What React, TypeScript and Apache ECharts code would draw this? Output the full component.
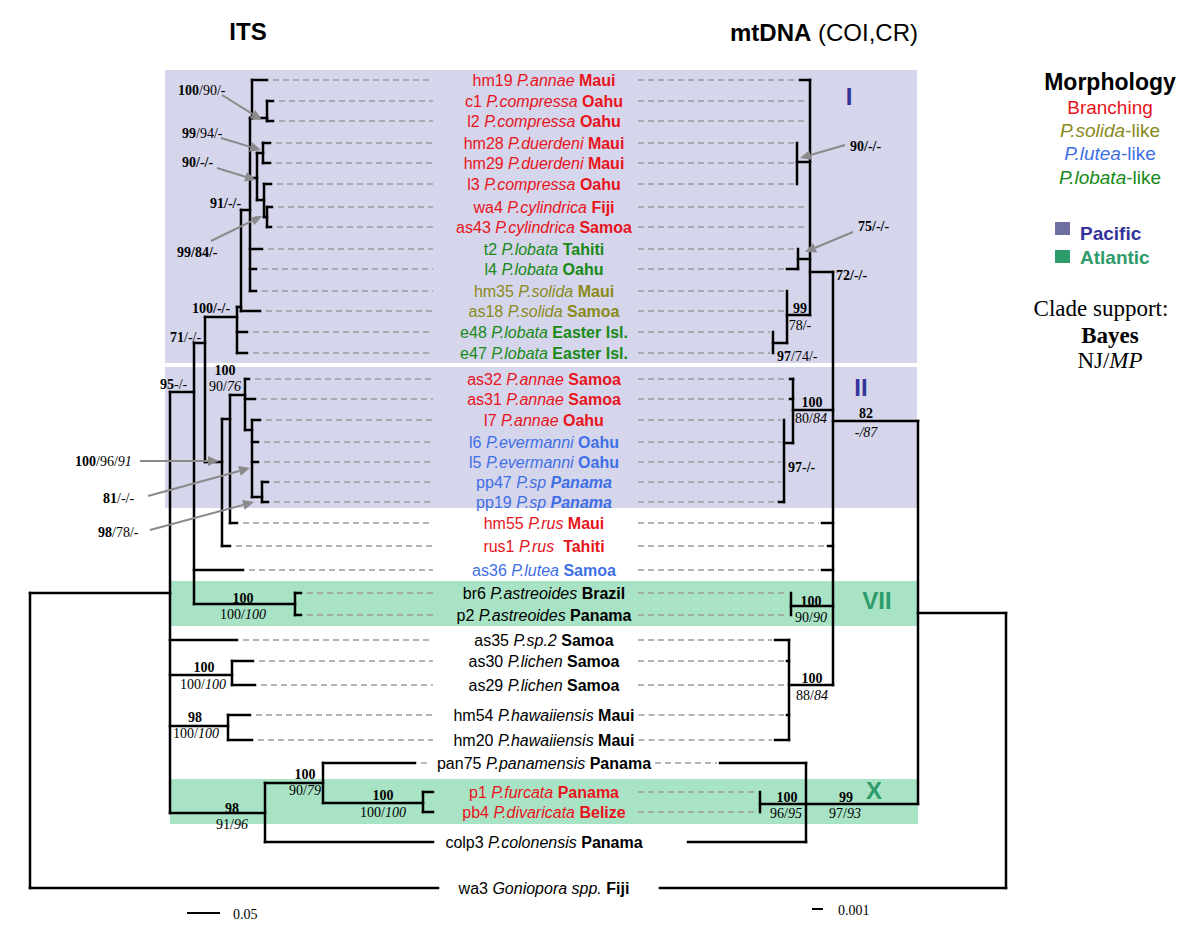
import React, { useEffect, useRef } from 'react';
import * as echarts from 'echarts';

const SANS = '"Liberation Sans", Arial, Helvetica, sans-serif';
const SERIF = '"Liberation Serif", "Times New Roman", Times, serif';

// ---------- leaves ----------
const leafCodes = ['hm19','c1','l2','hm28','hm29','l3','wa4','as43','t2','l4','hm35','as18','e48','e47','as32','as31','l7','l6','l5','pp47','pp19','hm55','rus1','as36','br6','p2','as35','as30','as29','hm54','hm20','pan75','p1','pb4','colp3','wa3'];
const leafSpecies = ['P.annae','P.compressa','P.compressa','P.duerdeni','P.duerdeni','P.compressa','P.cylindrica','P.cylindrica','P.lobata','P.lobata','P.solida','P.solida','P.lobata','P.lobata','P.annae','P.annae','P.annae','P.evermanni','P.evermanni','P.sp','P.sp','P.rus','P.rus ','P.lutea','P.astreoides','P.astreoides','P.sp.2','P.lichen','P.lichen','P.hawaiiensis','P.hawaiiensis','P.panamensis','P.furcata','P.divaricata','P.colonensis','Goniopora spp.'];
const leafPlaces = ['Maui','Oahu','Oahu','Maui','Maui','Oahu','Fiji','Samoa','Tahiti','Oahu','Maui','Samoa','Easter Isl.','Easter Isl.','Samoa','Samoa','Oahu','Oahu','Oahu','Panama','Panama','Maui','Tahiti','Samoa','Brazil','Panama','Samoa','Samoa','Samoa','Maui','Maui','Panama','Panama','Belize','Panama','Fiji'];
const leafMorph = ['B','B','B','B','B','B','B','B','lo','lo','so','so','lo','lo','B','B','B','lu','lu','lu','lu','B','B','lu','k','k','k','k','k','k','k','k','B','B','k','k'];
const leafRows = [80,101,121,143,163,184,207,227,249,269,291,311,332,353,379,399,420,442,462,482,502,523,546,570,593,615,640,661,685,715,740,763,792,812,842,888];
const italicPlaces = ['pp47','pp19'];
const solidTips = ['colp3','wa3'];

const morphColors: Record<string, string> = { B: '#e8141c', so: '#8a8a1c', lu: '#3f6fe6', lo: '#178a17', k: '#000000' };

// ---------- trees (x = branch depth in plot units) ----------
type TN = { x: number; y?: number; ch?: TN[]; leaf?: string };
const L = (leaf: string, x: number): TN => ({ leaf, x });
const N = (x: number, ch: TN[], y?: number): TN => ({ x, ch, y });

const itsTree = N(30, [
  N(170, [
    N(194, [
      N(205, [
        N(237, [
          N(241, [
            N(250, [
              N(252, [L('hm19', 267), N(267, [L('c1', 273), L('l2', 273)], 118)], 118),
              N(257, [
                N(263, [L('hm28', 270), L('hm29', 270)], 153),
                N(264, [L('l3', 271), N(267, [L('wa4', 272), L('as43', 271)], 217)], 200),
              ], 178),
              L('t2', 262),
              L('l4', 256),
              L('hm35', 256),
            ], 210),
            L('as18', 260),
          ], 307),
          L('e48', 247),
          L('e47', 247),
        ], 317),
        N(222, [
          N(230, [
            N(245, [
              L('as32', 249),
              L('as31', 255),
              N(252, [L('l7', 260), L('l6', 258), L('l5', 258), N(262, [L('pp47', 268), L('pp19', 268)], 497)], 430),
            ], 395),
            L('hm55', 237),
          ], 419),
          L('rus1', 230),
        ], 462),
      ], 343),
      L('as36', 243),
      N(295, [L('br6', 301), L('p2', 301)], 604),
    ], 392),
    L('as35', 237),
    N(232, [L('as30', 253), L('as29', 255)], 675),
    N(228, [L('hm54', 250), L('hm20', 252)], 726),
    N(265, [
      N(323, [L('pan75', 415), N(423, [L('p1', 433), L('pb4', 433)], 803)], 783),
      L('colp3', 433),
    ], 813),
  ], 593),
  L('wa3', 438),
]);

const mtTree = N(1006, [
  N(918, [
    N(833, [
      N(810, [
        L('hm19', 800), L('c1', 810), L('l2', 810),
        N(797, [L('hm28', 797), L('hm29', 797), L('l3', 797)], 162),
        L('wa4', 810), L('as43', 810),
        N(798, [L('t2', 798), L('l4', 787)], 259),
        N(787, [L('hm35', 787), L('as18', 787), N(773, [L('e48', 773), L('e47', 773)], 343)], 315),
      ], 272),
      N(793, [L('as32', 790), L('as31', 790), N(784, [L('l7', 784), L('l6', 784), L('l5', 784), L('pp47', 784), L('pp19', 779)], 443)], 410),
      L('hm55', 822), L('rus1', 828), L('as36', 822),
      N(791, [L('br6', 791), L('p2', 791)], 606),
      N(789, [L('as35', 775), L('as30', 787), L('as29', 789), L('hm54', 787), L('hm20', 775)], 685),
    ], 421),
    N(806, [L('pan75', 720), N(760, [L('p1', 760), L('pb4', 760)], 804), L('colp3', 688)], 804),
  ], 613),
  L('wa3', 660),
]);

// ---------- clade support labels ----------
const supportTexts = [
  '{b|100}{n|/90/-}', '{b|99}{n|/94/-}', '{b|90/-/-}', '{b|91/-/-}', '{b|99/84/-}', '{b|100/-/-}', '{b|71}{n|/-/-}', '{b|95}{n|-/-}',
  '{b|100}', '{n|90/}{i|76}', '{b|100}{n|/96/}{i|91}', '{b|81}{n|/-/-}', '{b|98}{n|/78/-}',
  '{b|100}', '{n|100/}{i|100}', '{b|100}', '{n|100/}{i|100}', '{b|98}', '{n|100/}{i|100}',
  '{b|100}', '{n|90/}{i|79}', '{b|100}', '{n|100/}{i|100}', '{b|98}', '{n|91/}{i|96}',
  '{b|90/-/-}', '{b|75/-/-}', '{b|72/-/-}', '{b|99}', '{n|78/-}', '{b|97}{n|/74/-}',
  '{b|100}', '{n|80/}{i|84}', '{b|97-/-}', '{b|82}', '{i|-/87}',
  '{b|100}', '{n|90/}{i|90}', '{b|100}', '{n|88/}{i|84}', '{b|100}', '{n|96/}{i|95}', '{b|99}', '{n|97/}{i|93}',
];
const supportX = [178,182,182,210,177,192,170,160, 225,225,75,103,98, 243,243,204,203,195,196, 305,305,383,383,232,232, 850,858,836,800,800,777, 812,811,788,866,866, 811,811,812,812,787,786,846,845];
const supportY = [90,133,162,203,252,308,337,384, 370,386,461,498,532, 598,614,667,684,717,733, 774,790,795,812,808,824, 146,226,275,308,325,356, 402,418,467,413,432, 601,617,678,695,797,813,797,813];
const supportAlign = ['left','left','left','left','left','left','left','left','center','center','left','left','left',
  'center','center','center','center','center','center','center','center','center','center','center','center',
  'left','left','left','center','center','left','center','center','left','center','center',
  'center','center','center','center','center','center','center','center'];

// pointer arrows: from -> to
const arrowLines = [
  [222, 95, 262, 120], [221, 138, 261, 150], [217, 168, 256, 180], [211, 241, 262, 216],
  [140, 461, 219, 461], [148, 496, 250, 468], [150, 530, 254, 502],
  [845, 145, 800, 158], [853, 232, 805, 252],
];

// background clade bands
const bandBoxes = [[165, 70, 917, 363], [165, 367, 917, 508], [170, 581, 918, 626], [170, 779, 918, 824]];
const bandKinds = ['pac', 'pac', 'atl', 'atl'];
const bandColors: Record<string, string> = { pac: '#d5d5eb', atl: '#a9e3c5' };

const cladeNames = ['I', 'II', 'VII', 'X'];
const cladeX = [849, 861, 877, 874];
const cladeY = [96, 387, 600, 790];
const cladeKinds = ['pac', 'pac', 'atl', 'atl'];

// ---------- helpers ----------
const rowOf: Record<string, number> = {};
leafCodes.forEach((c, i) => { rowOf[c] = leafRows[i]; });

function layout(t: TN, segs: number[][], tips: Record<string, number>, w: number): number {
  if (t.leaf) { tips[t.leaf] = t.x; return rowOf[t.leaf]; }
  const ch = t.ch || [];
  const ys = ch.map((c) => layout(c, segs, tips, w));
  ch.forEach((c, i) => { if (Math.abs(c.x - t.x) > 0.1) segs.push([t.x, ys[i], c.x, ys[i], w]); });
  const y = t.y !== undefined ? t.y : (Math.min(...ys) + Math.max(...ys)) / 2;
  segs.push([t.x, Math.min(...ys, y), t.x, Math.max(...ys, y), w]);
  return y;
}

let mctx: CanvasRenderingContext2D | null = null;
function textW(s: string, font: string) {
  if (!mctx) mctx = document.createElement('canvas').getContext('2d');
  if (!mctx) return s.length * 8;
  mctx.font = font;
  return mctx.measureText(s).width;
}

const LABEL_CX = 544;
const LABEL_FS = 16;

function buildOption() {
  const itsSegs: number[][] = []; const itsTips: Record<string, number> = {};
  layout(itsTree, itsSegs, itsTips, 2.5);
  const mtSegs: number[][] = []; const mtTips: Record<string, number> = {};
  layout(mtTree, mtSegs, mtTips, 2.5);

  const labelW = leafCodes.map((c, i) =>
    textW(c + ' ', `${LABEL_FS}px ${SANS}`) +
    textW(leafSpecies[i] + ' ', `italic ${LABEL_FS}px ${SANS}`) +
    textW(leafPlaces[i], `${italicPlaces.includes(c) ? 'italic ' : ''}bold ${LABEL_FS}px ${SANS}`));

  const dashes: number[][] = [];
  leafCodes.forEach((c, i) => {
    if (solidTips.includes(c)) return;
    const y = leafRows[i];
    const left = LABEL_CX - labelW[i] / 2;
    const right = LABEL_CX + labelW[i] / 2;
    const a0 = itsTips[c] + 6, a1 = Math.min(433, left - 6);
    if (a1 - a0 > 5) dashes.push([a0, y, a1, y]);
    const b0 = Math.max(638, right + 4), b1 = mtTips[c] - 3;
    if (b1 - b0 > 5) dashes.push([b0, y, b1, y]);
  });

  const segSeries = (data: number[][]) => ({
    type: 'custom', silent: true, data, z: 5,
    renderItem: (_p: any, api: any) => {
      const p1 = api.coord([api.value(0), api.value(1)]);
      const p2 = api.coord([api.value(2), api.value(3)]);
      return { type: 'line', shape: { x1: p1[0], y1: p1[1], x2: p2[0], y2: p2[1] },
        style: { stroke: '#000', lineWidth: api.value(4), lineCap: 'square' } };
    },
  });

  const graphic: any[] = [
    { type: 'text', style: { x: 248, y: 31, text: 'ITS', align: 'center', textAlign: 'center', verticalAlign: 'middle', textVerticalAlign: 'middle', fontSize: 24, fontWeight: 'bold', fontFamily: SANS, fill: '#000' } },
    { type: 'text', style: { x: 730, y: 32, text: '{b|mtDNA}{n| (COI,CR)}', align: 'left', textAlign: 'left', verticalAlign: 'middle', textVerticalAlign: 'middle',
      rich: { b: { fontSize: 24, fontWeight: 'bold', fontFamily: SANS, fill: '#000' }, n: { fontSize: 24, fontFamily: SANS, fill: '#000' } } } },
    { type: 'text', style: { x: 1110, y: 82, text: 'Morphology', align: 'center', textAlign: 'center', verticalAlign: 'middle', textVerticalAlign: 'middle', fontSize: 23, fontWeight: 'bold', fontFamily: SANS, fill: '#000' } },
    { type: 'text', style: { x: 1110, y: 107, text: 'Branching', align: 'center', textAlign: 'center', verticalAlign: 'middle', textVerticalAlign: 'middle', fontSize: 19, fontFamily: SANS, fill: morphColors.B } },
    ...[['P.solida', 130, morphColors.so], ['P.lutea', 153, morphColors.lu], ['P.lobata', 177, morphColors.lo]].map(([t, y, col]) => ({
      type: 'text', style: { x: 1110, y, text: `{i|${t}}{n|-like}`, align: 'center', textAlign: 'center', verticalAlign: 'middle', textVerticalAlign: 'middle',
        rich: { i: { fontSize: 19, fontStyle: 'italic', fontFamily: SANS, fill: col }, n: { fontSize: 19, fontFamily: SANS, fill: col } } } })),
    { type: 'rect', shape: { x: 1055, y: 222, width: 15, height: 13 }, style: { fill: '#6e6ea2' } },
    { type: 'text', style: { x: 1080, y: 233, text: 'Pacific', align: 'left', textAlign: 'left', verticalAlign: 'middle', textVerticalAlign: 'middle', fontSize: 19, fontWeight: 'bold', fontFamily: SANS, fill: '#333399' } },
    { type: 'rect', shape: { x: 1055, y: 250, width: 15, height: 13 }, style: { fill: '#2e9b6b' } },
    { type: 'text', style: { x: 1080, y: 257, text: 'Atlantic', align: 'left', textAlign: 'left', verticalAlign: 'middle', textVerticalAlign: 'middle', fontSize: 19, fontWeight: 'bold', fontFamily: SANS, fill: '#2e9b6b' } },
    { type: 'text', style: { x: 1101, y: 308, text: 'Clade support:', align: 'center', textAlign: 'center', verticalAlign: 'middle', textVerticalAlign: 'middle', fontSize: 23, fontFamily: SERIF, fill: '#000' } },
    { type: 'text', style: { x: 1110, y: 335, text: 'Bayes', align: 'center', textAlign: 'center', verticalAlign: 'middle', textVerticalAlign: 'middle', fontSize: 23, fontWeight: 'bold', fontFamily: SERIF, fill: '#000' } },
    { type: 'text', style: { x: 1110, y: 360, text: '{n|NJ/}{i|MP}', align: 'center', textAlign: 'center', verticalAlign: 'middle', textVerticalAlign: 'middle',
      rich: { n: { fontSize: 23, fontFamily: SERIF, fill: '#000' }, i: { fontSize: 23, fontStyle: 'italic', fontFamily: SERIF, fill: '#000' } } } },
    { type: 'line', shape: { x1: 187, y1: 913, x2: 220, y2: 913 }, style: { stroke: '#000', lineWidth: 2 } },
    { type: 'text', style: { x: 233, y: 914, text: '0.05', align: 'left', textAlign: 'left', verticalAlign: 'middle', textVerticalAlign: 'middle', fontSize: 14, fontFamily: SERIF, fill: '#000' } },
    { type: 'line', shape: { x1: 812, y1: 909, x2: 823, y2: 909 }, style: { stroke: '#000', lineWidth: 2 } },
    { type: 'text', style: { x: 838, y: 910, text: '0.001', align: 'left', textAlign: 'left', verticalAlign: 'middle', textVerticalAlign: 'middle', fontSize: 14, fontFamily: SERIF, fill: '#000' } },
  ];

  return {
    animation: false,
    backgroundColor: '#ffffff',
    grid: { left: 0, right: 0, top: 0, bottom: 0 },
    xAxis: { type: 'value', min: 0, max: 1200, show: false },
    yAxis: { type: 'value', min: 0, max: 935, inverse: true, show: false },
    graphic,
    series: [
      {
        type: 'custom', silent: true, z: 1,
        data: bandBoxes.map((b, i) => [...b, i]),
        renderItem: (_p: any, api: any) => {
          const a = api.coord([api.value(0), api.value(1)]);
          const b = api.coord([api.value(2), api.value(3)]);
          return { type: 'rect', shape: { x: a[0], y: a[1], width: b[0] - a[0], height: b[1] - a[1] },
            style: { fill: bandColors[bandKinds[api.value(4)]] } };
        },
      },
      {
        type: 'custom', silent: true, z: 2,
        data: cladeNames.map((_n, i) => [cladeX[i], cladeY[i], i]),
        renderItem: (_p: any, api: any) => {
          const p = api.coord([api.value(0), api.value(1)]);
          const i = api.value(2);
          return { type: 'text', style: { x: p[0], y: p[1], text: cladeNames[i], align: 'center', textAlign: 'center', verticalAlign: 'middle', textVerticalAlign: 'middle',
            fontSize: 24, fontWeight: 'bold', fontFamily: SANS, fill: cladeKinds[i] === 'pac' ? '#333399' : '#2e9b6b' } };
        },
      },
      {
        type: 'custom', silent: true, z: 3, data: dashes,
        renderItem: (_p: any, api: any) => {
          const p1 = api.coord([api.value(0), api.value(1)]);
          const p2 = api.coord([api.value(2), api.value(3)]);
          return { type: 'line', shape: { x1: p1[0], y1: p1[1], x2: p2[0], y2: p2[1] },
            style: { stroke: '#9c9c9c', lineWidth: 1.4, lineDash: [6, 4] } };
        },
      },
      segSeries(itsSegs),
      segSeries(mtSegs),
      {
        type: 'custom', silent: true, z: 6, data: arrowLines,
        renderItem: (_p: any, api: any) => {
          const a = api.coord([api.value(0), api.value(1)]);
          const b = api.coord([api.value(2), api.value(3)]);
          const dx = b[0] - a[0], dy = b[1] - a[1];
          const len = Math.hypot(dx, dy) || 1; const ux = dx / len, uy = dy / len;
          const hl = 11, hw = 5;
          const bx = b[0] - ux * hl, by = b[1] - uy * hl;
          return { type: 'group', children: [
            { type: 'line', shape: { x1: a[0], y1: a[1], x2: bx, y2: by }, style: { stroke: '#8a8a8a', lineWidth: 2 } },
            { type: 'polygon', shape: { points: [[b[0], b[1]], [bx - uy * hw, by + ux * hw], [bx + uy * hw, by - ux * hw]] }, style: { fill: '#8a8a8a' } },
          ] };
        },
      },
      {
        type: 'custom', silent: true, z: 7,
        data: leafRows.map((y, i) => [LABEL_CX, y, i]),
        renderItem: (_p: any, api: any) => {
          const p = api.coord([api.value(0), api.value(1)]);
          const i = api.value(2);
          const col = morphColors[leafMorph[i]];
          const pk = italicPlaces.includes(leafCodes[i]) ? 'bi' : 'b';
          return { type: 'text', style: {
            x: p[0], y: p[1], align: 'center', textAlign: 'center', verticalAlign: 'middle', textVerticalAlign: 'middle',
            text: `{n|${leafCodes[i]} }{i|${leafSpecies[i]} }{${pk}|${leafPlaces[i]}}`,
            rich: {
              n: { fontSize: LABEL_FS, fontFamily: SANS, fill: col },
              i: { fontSize: LABEL_FS, fontFamily: SANS, fontStyle: 'italic', fill: col },
              b: { fontSize: LABEL_FS, fontFamily: SANS, fontWeight: 'bold', fill: col },
              bi: { fontSize: LABEL_FS, fontFamily: SANS, fontWeight: 'bold', fontStyle: 'italic', fill: col },
            } } };
        },
      },
      {
        type: 'custom', silent: true, z: 8,
        data: supportX.map((x, i) => [x, supportY[i], i]),
        renderItem: (_p: any, api: any) => {
          const p = api.coord([api.value(0), api.value(1)]);
          const i = api.value(2);
          return { type: 'text', style: {
            x: p[0], y: p[1], text: supportTexts[i], align: supportAlign[i], textAlign: supportAlign[i], verticalAlign: 'middle', textVerticalAlign: 'middle',
            rich: {
              b: { fontSize: 14, fontWeight: 'bold', fontFamily: SERIF, fill: '#000' },
              n: { fontSize: 14, fontFamily: SERIF, fill: '#000' },
              i: { fontSize: 14, fontStyle: 'italic', fontFamily: SERIF, fill: '#000' },
            } } };
        },
      },
    ],
  };
}

export default function App() {
  const ref = useRef<HTMLDivElement>(null);
  useEffect(() => {
    if (!ref.current) return;
    const chart = echarts.init(ref.current, null, { renderer: 'svg' });
    chart.setOption(buildOption() as any);
    return () => chart.dispose();
  }, []);
  return <div ref={ref} style={{ position: 'absolute', left: 0, top: 0, width: 1200, height: 935, background: '#fff' }} />;
}
